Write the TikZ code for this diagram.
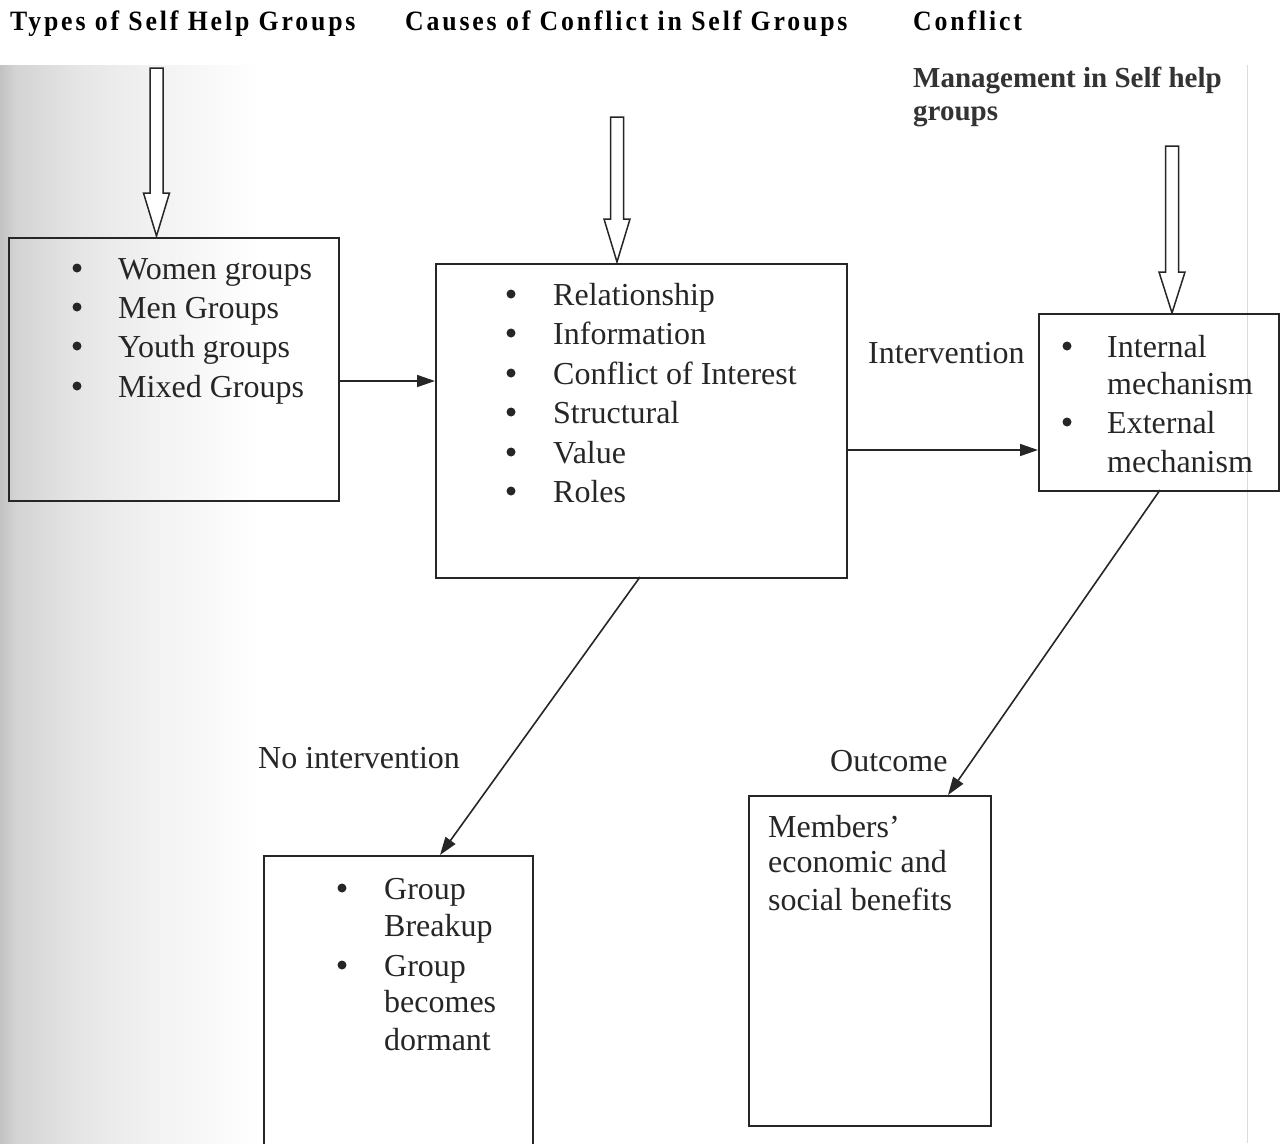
\documentclass[tikz,border=0pt]{standalone}
\usepackage{fontspec}
\setmainfont{Liberation Serif}
\newfontfamily\hdfont[LetterSpace=10.2,FakeStretch=0.92]{Liberation Serif}
\usetikzlibrary{arrows.meta}
\colorlet{ink}{black!85}
\pgfdeclarehorizontalshading{scanfade}{100bp}{%
  color(0bp)=(black!24); color(25bp)=(black!24); color(28bp)=(black!17);
  color(40bp)=(black!10); color(55bp)=(black!5); color(75bp)=(white); color(100bp)=(white)}
\tikzset{
  box/.style={draw=ink, line width=1.7pt, anchor=north west, inner sep=0pt},
  txt/.style={anchor=base west, inner sep=0pt, text=ink, font=\fontsize{32}{39}\selectfont},
  hdr/.style={anchor=base west, inner sep=0pt, text=black, font=\hdfont\bfseries\fontsize{28}{32}\selectfont},
  mgt/.style={anchor=base west, inner sep=0pt, text=black!80, font=\bfseries\fontsize{29}{33}\selectfont},
  bul/.style={circle, fill=ink, inner sep=0pt, minimum size=9pt},
  conn/.style={draw=ink, line width=1.6pt, -{Triangle[length=18pt,width=12pt]}},
  hollow/.style={draw=ink, line width=1.5pt, fill=white, line join=miter}
}
\newcommand\blockarr[4]{% x, ytop, yhead, tip coordinate
  \draw[hollow] (#1-6.5,#2) -- (#1+6.5,#2) -- (#1+6.5,#3) -- (#1+13,#3)
     -- (#4) -- (#1-13,#3) -- (#1-6.5,#3) -- cycle;}
\begin{document}
\begin{tikzpicture}[x=1pt,y=-1pt]
\useasboundingbox (0,0) rectangle (1282,1143);
% scan shading and page edge
\shade[shading=scanfade] (0,65) rectangle (260,1143);
\draw[black!14, line width=1pt] (1247,65) -- (1247,1143);

% headings
\node[hdr] (h1) at (10,30) {Types of Self Help Groups};
\node[hdr] (h2) at (405,30) {Causes of Conflict in Self Groups};
\node[hdr] (h3) at (913,30) {Conflict};
\node[mgt] (m1) at (913,87) {Management in Self help};
\node[mgt] (m2) at (913,120) {groups};

% boxes
\node[box, minimum width=330pt, minimum height=263pt] (types) at (8,237) {};
\node[box, minimum width=411pt, minimum height=314pt] (causes) at (435,263) {};
\node[box, minimum width=240pt, minimum height=177pt] (mgmt) at (1038,313) {};
\node[box, minimum width=269pt, minimum height=300pt] (noint) at (263,855) {};
\node[box, minimum width=242pt, minimum height=330pt] (outc) at (748,795) {};

% hollow arrows
\coordinate (ta) at (156.5,236);
\coordinate (tb) at (617,262);
\coordinate (tc) at (1172,313);
\blockarr{156.5}{68}{193}{ta}
\blockarr{617}{117}{219}{tb}
\blockarr{1172}{146}{272}{tc}

% left box
\node[bul] (b11) at (77,268) {};
\node[bul] (b12) at (77,307) {};
\node[bul] (b13) at (77,346) {};
\node[bul] (b14) at (77,386) {};
\node[txt] (l1) at (118,279) {Women groups};
\node[txt] (l2) at (118,318) {Men Groups};
\node[txt] (l3) at (118,357) {Youth groups};
\node[txt] (l4) at (118,397) {Mixed Groups};

% middle box
\node[bul] (b21) at (511,294) {};
\node[bul] (b22) at (511,333) {};
\node[bul] (b23) at (511,373) {};
\node[bul] (b24) at (511,412) {};
\node[bul] (b25) at (511,452) {};
\node[bul] (b26) at (511,491) {};
\node[txt] (c1) at (553,305) {Relationship};
\node[txt] (c2) at (553,344) {Information};
\node[txt] (c3) at (553,384) {Conflict of Interest};
\node[txt] (c4) at (553,423) {Structural};
\node[txt] (c5) at (553,463) {Value};
\node[txt] (c6) at (553,502) {Roles};

% right box
\node[bul] (b31) at (1067,346) {};
\node[bul] (b32) at (1067,422) {};
\node[txt] (r1) at (1107,357) {Internal};
\node[txt] (r2) at (1107,394) {mechanism};
\node[txt] (r3) at (1107,433) {External};
\node[txt] (r4) at (1107,472) {mechanism};

% no intervention box
\node[bul] (b41) at (342,888) {};
\node[bul] (b42) at (342,965) {};
\node[txt] (n1) at (384,899) {Group};
\node[txt] (n2) at (384,936) {Breakup};
\node[txt] (n3) at (384,976) {Group};
\node[txt] (n4) at (384,1012) {becomes};
\node[txt] (n5) at (384,1050) {dormant};

% outcome box
\node[txt] (o1) at (768,837) {Members’};
\node[txt] (o2) at (768,872) {economic and};
\node[txt] (o3) at (768,910) {social benefits};

% labels
\node[txt] (lint) at (868,363) {Intervention};
\node[txt] (lnoi) at (258,768) {No intervention};
\node[txt] (lout) at (830,771) {Outcome};

% connectors
\draw[conn] (types.east |- 0,381) -- (causes.west |- 0,381);
\draw[conn] (causes.east |- 0,450) -- (mgmt.west |- 0,450);
\coordinate (s1) at (640,577);
\coordinate (e1) at (440,855);
\draw[conn] (s1) -- (e1);
\coordinate (s2) at (1160,490);
\coordinate (e2) at (948,795);
\draw[conn] (s2) -- (e2);
\end{tikzpicture}
\end{document}
